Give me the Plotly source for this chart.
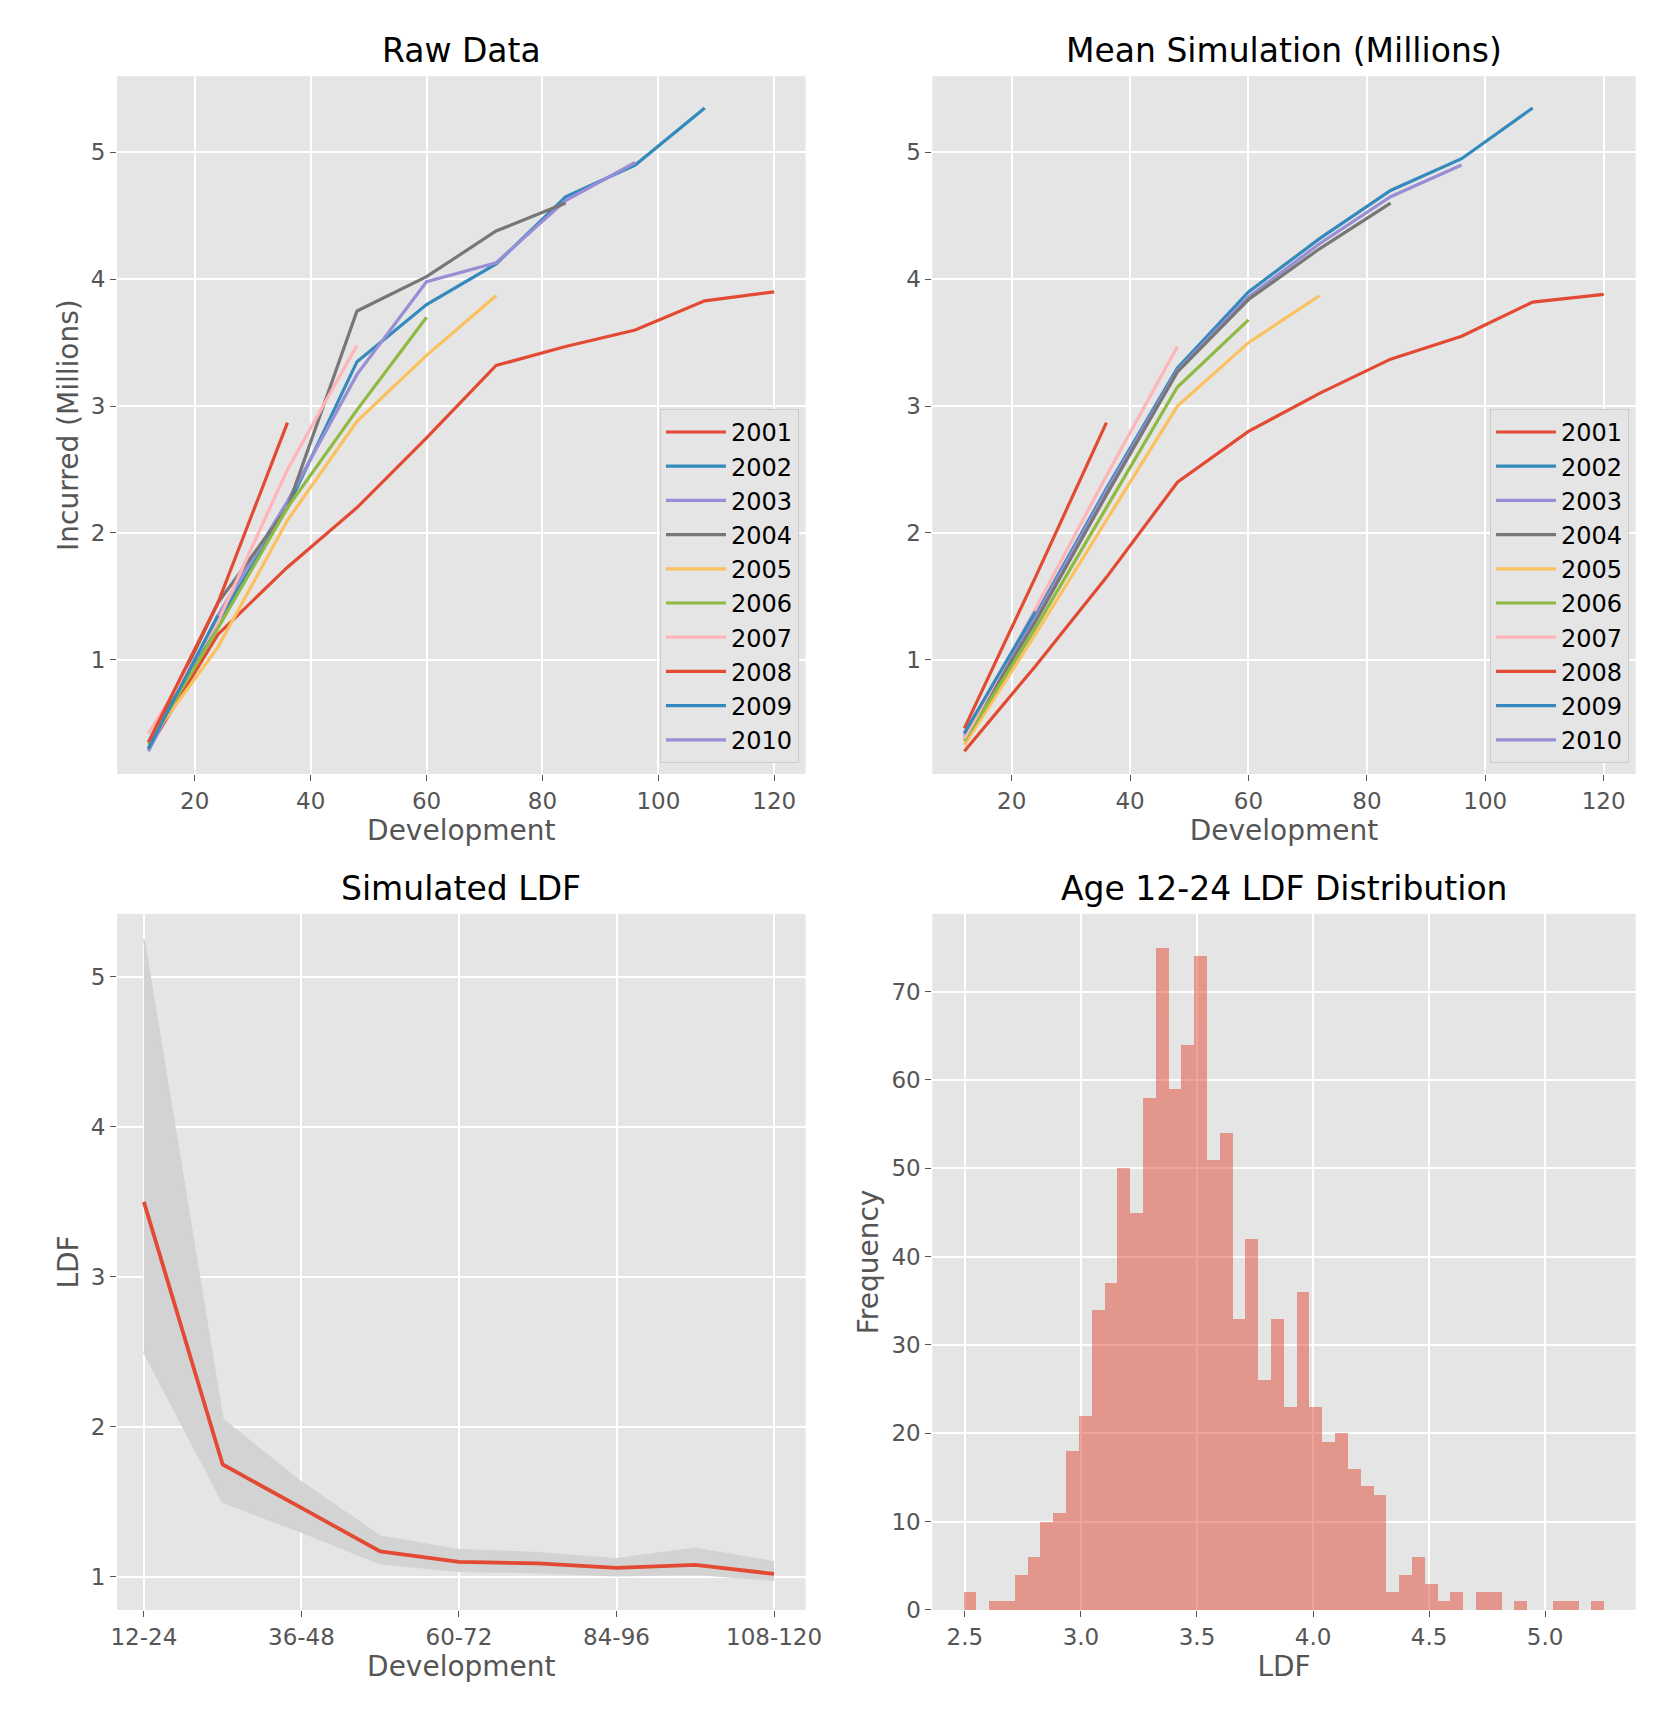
import plotly.graph_objects as go

dev = [12, 24, 36, 48, 60, 72, 84, 96, 108, 120]
years = ["2001", "2002", "2003", "2004", "2005", "2006", "2007", "2008", "2009", "2010"]
colors = ["#E24A33", "#348ABD", "#988ED5", "#777777", "#FBC15E",
          "#8EBA42", "#FFB5B8", "#E24A33", "#348ABD", "#988ED5"]

raw_2001 = [0.30, 1.20, 1.73, 2.20, 2.75, 3.32, 3.47, 3.60, 3.83, 3.90]
raw_2002 = [0.35, 1.30, 2.20, 3.35, 3.80, 4.12, 4.65, 4.90, 5.35]
raw_2003 = [0.28, 1.35, 2.25, 3.25, 3.98, 4.13, 4.62, 4.92]
raw_2004 = [0.30, 1.45, 2.20, 3.75, 4.02, 4.38, 4.60]
raw_2005 = [0.35, 1.10, 2.10, 2.88, 3.40, 3.87]
raw_2006 = [0.33, 1.25, 2.20, 2.97, 3.70]
raw_2007 = [0.42, 1.30, 2.50, 3.48]
raw_2008 = [0.35, 1.45, 2.87]
raw_2009 = [0.30, 1.35]
raw_2010 = [0.30]
raw = [raw_2001, raw_2002, raw_2003, raw_2004, raw_2005, raw_2006, raw_2007, raw_2008, raw_2009, raw_2010]

sim_2001 = [0.28, 0.95, 1.65, 2.40, 2.80, 3.10, 3.37, 3.55, 3.82, 3.88]
sim_2002 = [0.42, 1.35, 2.35, 3.30, 3.90, 4.32, 4.70, 4.95, 5.35]
sim_2003 = [0.40, 1.33, 2.33, 3.28, 3.86, 4.28, 4.65, 4.90]
sim_2004 = [0.38, 1.30, 2.30, 3.27, 3.84, 4.24, 4.60]
sim_2005 = [0.33, 1.20, 2.10, 3.00, 3.50, 3.87]
sim_2006 = [0.36, 1.25, 2.20, 3.15, 3.68]
sim_2007 = [0.38, 1.40, 2.45, 3.47]
sim_2008 = [0.46, 1.65, 2.87]
sim_2009 = [0.42, 1.38]
sim_2010 = [0.40]
sim = [sim_2001, sim_2002, sim_2003, sim_2004, sim_2005, sim_2006, sim_2007, sim_2008, sim_2009, sim_2010]

ldf_labels = ["12-24", "24-36", "36-48", "48-60", "60-72", "72-84", "84-96", "96-108", "108-120"]
ldf_mean = [3.50, 1.75, 1.46, 1.17, 1.10, 1.09, 1.06, 1.08, 1.02]
ldf_max = [5.25, 2.05, 1.63, 1.27, 1.18, 1.16, 1.12, 1.19, 1.10]
ldf_min = [2.50, 1.50, 1.30, 1.09, 1.04, 1.03, 1.01, 1.02, 0.98]

hist_start = 2.496
hist_width = 0.0552
hist_counts = [2, 0, 1, 1, 4, 6, 10, 11, 18, 22, 34, 37, 50, 45, 58, 75, 59, 64, 74, 51,
               54, 33, 42, 26, 33, 23, 36, 23, 19, 20, 16, 14, 13, 2, 4, 6, 3, 1, 2, 0,
               2, 2, 0, 1, 0, 0, 1, 1, 0, 1]

fig = go.Figure()
for i in range(10):
    fig.add_trace(go.Scatter(x=dev[:len(raw[i])], y=raw[i], mode="lines", name=years[i],
                             line=dict(color=colors[i], width=3.2), xaxis="x", yaxis="y", legend="legend"))
for i in range(10):
    fig.add_trace(go.Scatter(x=dev[:len(sim[i])], y=sim[i], mode="lines", name=years[i],
                             line=dict(color=colors[i], width=3.2), xaxis="x2", yaxis="y2", legend="legend2"))

idx = list(range(len(ldf_labels)))
fig.add_trace(go.Scatter(x=idx, y=ldf_max, mode="lines", line=dict(color="#D3D3D3", width=2),
                         showlegend=False, xaxis="x3", yaxis="y3"))
fig.add_trace(go.Scatter(x=idx, y=ldf_min, mode="lines", line=dict(color="#D3D3D3", width=2),
                         fill="tonexty", fillcolor="#D3D3D3", showlegend=False, xaxis="x3", yaxis="y3"))
fig.add_trace(go.Scatter(x=idx, y=ldf_mean, mode="lines", line=dict(color="#E24A33", width=3.8),
                         showlegend=False, xaxis="x3", yaxis="y3"))

centers = [hist_start + hist_width * (i + 0.5) for i in range(len(hist_counts))]
fig.add_trace(go.Bar(x=centers, y=hist_counts, width=hist_width, marker=dict(color="#E24A33", line=dict(width=0)),
                     opacity=0.5, showlegend=False, xaxis="x4", yaxis="y4"))

font = "DejaVu Sans"
ax = dict(showgrid=True, gridcolor="white", gridwidth=1.8, zeroline=False, showline=False,
          ticks="outside", tickcolor="#555555", ticklen=6, tickfont=dict(size=23, color="#555555", family=font),
          title_font=dict(size=28, color="#555555", family=font), title_standoff=4)

xd = [[0.062, 0.48], [0.557, 0.984]]
yd = [[0.551, 0.96], [0.061, 0.469]]
leg = dict(yanchor="bottom", xanchor="right", y=0.5575, bgcolor="#E5E5E5", bordercolor="#CCCCCC",
           borderwidth=1, traceorder="normal", tracegroupgap=0, itemwidth=60,
           font=dict(size=24, color="black", family=font))
fig.update_layout(
    width=1671, height=1719, paper_bgcolor="white", plot_bgcolor="#E5E5E5",
    margin=dict(l=0, r=0, t=0, b=0), bargap=0,
    font=dict(family=font),
    xaxis=dict(ax, domain=xd[0], anchor="y", range=[6.6, 125.4], tickvals=[20, 40, 60, 80, 100, 120], title_text="Development"),
    yaxis=dict(ax, domain=yd[0], anchor="x", range=[0.1, 5.6], tickvals=[1, 2, 3, 4, 5], title_text="Incurred (Millions)"),
    xaxis2=dict(ax, domain=xd[1], anchor="y2", range=[6.6, 125.4], tickvals=[20, 40, 60, 80, 100, 120], title_text="Development"),
    yaxis2=dict(ax, domain=yd[0], anchor="x2", range=[0.1, 5.6], tickvals=[1, 2, 3, 4, 5]),
    xaxis3=dict(ax, domain=xd[0], anchor="y3", range=[-0.34, 8.4], tickvals=[0, 2, 4, 6, 8],
                ticktext=[ldf_labels[k] for k in [0, 2, 4, 6, 8]], title_text="Development"),
    yaxis3=dict(ax, domain=yd[1], anchor="x3", range=[0.78, 5.42], tickvals=[1, 2, 3, 4, 5], title_text="LDF"),
    xaxis4=dict(ax, domain=xd[1], anchor="y4", range=[2.36, 5.39], tickvals=[2.5, 3.0, 3.5, 4.0, 4.5, 5.0],
                ticktext=["2.5", "3.0", "3.5", "4.0", "4.5", "5.0"], title_text="LDF"),
    yaxis4=dict(ax, domain=yd[1], anchor="x4", range=[0, 78.8], tickvals=[0, 10, 20, 30, 40, 50, 60, 70], title_text="Frequency"),
    legend=dict(leg, x=0.476),
    legend2=dict(leg, x=0.980),
)

titles = [("Raw Data", 0.271, 0.96), ("Mean Simulation (Millions)", 0.7705, 0.96),
          ("Simulated LDF", 0.271, 0.469), ("Age 12-24 LDF Distribution", 0.7705, 0.469)]
for t, x, y in titles:
    fig.add_annotation(text=t, x=x, y=y, xref="paper", yref="paper", xanchor="center", yanchor="bottom",
                       yshift=4, showarrow=False, font=dict(size=33, color="black", family=font))

fig.write_html("out.html")
